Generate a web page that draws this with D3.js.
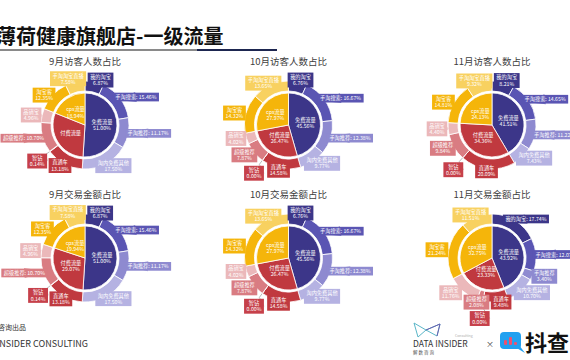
<!DOCTYPE html>
<html><head><meta charset="utf-8">
<script src="https://cdn.jsdelivr.net/npm/d3@7/dist/d3.min.js"></script>
<style>
body{margin:0;background:#fff}
svg{display:block}
text{font-family:"Noto Sans CJK SC","Noto Sans",sans-serif}
</style>
</head><body>
<svg id="c" width="570" height="360"></svg>
<script>
const mainTitle = "薄荷健康旗舰店-一级流量";
const chartTitles = ["9月访客人数占比","10月访客人数占比","11月访客人数占比","9月交易金额占比","10月交易金额占比","11月交易金额占比"];
const innerNames = ["免费流量","付费流量","cps流量"];
const innerValues = [
  [51.00, 30.06, 18.94],
  [45.56, 26.47, 27.97],
  [41.51, 34.36, 24.13],
  [51.00, 29.07, 19.94],
  [45.56, 26.47, 27.97],
  [43.92, 23.33, 32.75]
];
const innerValueHidden = [[false,true,false],[false,false,false],[false,false,false],[false,false,false],[false,false,false],[false,false,false]];
const outerNames = ["我的淘宝","手淘搜索","手淘推荐","淘内免费其他","直通车","智钻","超级推荐","品销宝","淘宝客","手淘淘宝直播"];
const outerParents = [0,0,0,0,1,1,1,1,2,2];
const outerValues = [
  [6.87,15.46,11.17,17.50,13.18,0.14,10.70,4.96,12.35,7.58],
  [6.76,16.67,12.38,9.77,14.58,0.00,7.87,4.02,14.32,13.65],
  [8.21,14.65,11.22,7.43,20.09,0.00,9.84,4.40,14.81,9.32],
  [6.87,15.46,11.17,17.50,13.18,0.14,10.70,4.96,12.35,7.58],
  [6.76,16.67,12.38,9.77,14.58,0.00,7.87,4.02,14.32,13.65],
  [17.74,12.07,3.40,10.70,9.48,0.00,2.08,11.76,21.24,11.51]
];
const singleLineLabels = [
  ["手淘搜索","手淘推荐","超级推荐"],
  ["手淘搜索","手淘推荐"],
  ["手淘搜索","手淘推荐"],
  ["手淘搜索","手淘推荐","超级推荐"],
  ["手淘搜索","手淘推荐"],
  ["我的淘宝","手淘搜索"]
];

const innerColors = ["#3c3689","#c0393f","#f5b50a"];
const outerColors = ["#3c3689","#5a55b3","#8e8ad0","#b5b2e2","#c0393f","#c6404a","#d97c82","#ebb8ba","#f5b50a","#f8d160"];

const svg = d3.select("#c");
const fmt = v => v.toFixed(2) + "%";

// header
svg.append("text").attr("x",-4).attr("y",44).attr("font-size",20).attr("font-weight",700).attr("fill","#111").text(mainTitle);
svg.append("line").attr("x1",0).attr("x2",197).attr("y1",50).attr("y2",50).attr("stroke","#8a8a8a").attr("stroke-width",2);
svg.append("line").attr("x1",197).attr("x2",277).attr("y1",50).attr("y2",50).attr("stroke","#1d2650").attr("stroke-width",2);

const colX = d3.scalePoint().domain([0,1,2]).range([85,492]);
const rowY = d3.scalePoint().domain([0,1]).range([125,258]);
const R0 = 32, R1a = 34, R1 = 44;
const FS = 5.2, LH = 6.2;

// measuring helper
const meas = svg.append("text").attr("font-size",FS).attr("visibility","hidden");
function tw(s){ meas.text(s); return meas.node().getComputedTextLength(); }

chartTitles.forEach((title, ci) => {
  const cx = colX(ci % 3), cy = rowY(Math.floor(ci/3));
  const g = svg.append("g").attr("transform",`translate(${cx},${cy})`);
  svg.append("text").attr("x",cx).attr("y",cy - 60).attr("text-anchor","middle")
     .attr("font-size",9.5).attr("fill","#404040").text(title);

  const pieData = d3.pie().sort(null).value(d=>d)(innerValues[ci]);
  const arcIn = d3.arc().innerRadius(0).outerRadius(R0);
  const segs = [];
  pieData.forEach((p, pi) => {
    const idx = outerParents.map((q,k)=>q===pi?k:-1).filter(k=>k>=0);
    const tot = d3.sum(idx, k=>outerValues[ci][k]);
    const sc = d3.scaleLinear().domain([0,tot]).range([p.startAngle,p.endAngle]);
    let acc = 0;
    idx.forEach(k => {
      const v = outerValues[ci][k];
      segs.push({k, name: outerNames[k], value: v, startAngle: sc(acc), endAngle: sc(acc+v), color: outerColors[k]});
      acc += v;
    });
  });
  const arcOut = d3.arc().innerRadius(R1a).outerRadius(R1);

  const single = singleLineLabels[ci];
  const labels = segs.map(s => {
    const th = (s.startAngle + s.endAngle)/2;
    const sn = Math.sin(th), cs = Math.cos(th);
    let lines;
    if (single.includes(s.name)) lines = [s.name + ": " + fmt(s.value)];
    else lines = [s.name, fmt(s.value)];
    const w = d3.max(lines, tw) + 5;
    const h = lines.length * LH + 2.5;
    const tiny = s.value < 0.5;
    let x, y;
    if (tiny) { x = sn*58; y = -cs*60; }
    else { x = sn*48 + sn*w*0.35; y = -cs*46; }
    return {s, th, sn, cs, lines, w, h, x, y, tiny};
  });
  for (let it=0; it<60; it++) {
    for (let a=0;a<labels.length;a++) for (let b=a+1;b<labels.length;b++) {
      const A=labels[a], B=labels[b];
      const ox = (A.w+B.w)/2 + 1.5 - Math.abs(A.x-B.x);
      const oy = (A.h+B.h)/2 + 1.5 - Math.abs(A.y-B.y);
      if (ox>0 && oy>0) {
        if (oy <= ox) { const d = oy/2*(A.y<=B.y?1:-1); A.y -= d; B.y += d; }
        else { const d = ox/2*(A.x<=B.x?1:-1); A.x -= d; B.x += d; }
      }
    }
  }

  labels.forEach(L => {
    const tx = L.sn*(R1-3), ty = -L.cs*(R1-3);
    if (L.tiny) {
      g.append("polyline").attr("points",`${tx},${ty} ${L.sn*(R1+5)},${-L.cs*(R1+5)} ${L.x + (L.sn>0?-L.w/2:L.w/2)},${L.y}`)
        .attr("fill","none").attr("stroke","#9a9a9a").attr("stroke-width",0.7);
    } else {
      const dx = L.x - tx, dy = L.y - ty, len = Math.hypot(dx,dy)||1;
      const px = -dy/len*5, py = dx/len*5;
      g.append("polygon").attr("points",`${tx},${ty} ${L.x+px},${L.y+py} ${L.x-px},${L.y-py}`)
        .attr("fill",L.s.color).attr("opacity",0.8);
    }
  });

  g.selectAll("path.in").data(pieData).join("path").attr("class","in")
    .attr("d",arcIn).attr("fill",(d,j)=>innerColors[j]).attr("stroke","#fff").attr("stroke-width",0.8);
  g.selectAll("path.out").data(segs).join("path").attr("class","out")
    .attr("d",arcOut).attr("fill",d=>d.color).attr("stroke","#fff").attr("stroke-width",0.8);

  pieData.forEach((p,j) => {
    const th = (p.startAngle+p.endAngle)/2;
    const x = Math.sin(th)*17, y = -Math.cos(th)*15;
    const t = g.append("text").attr("x",x).attr("y",y).attr("text-anchor","middle")
      .attr("font-size",FS).attr("fill","#fff");
    const lines = innerValueHidden[ci][j] ? [innerNames[j]] : [innerNames[j], fmt(p.data)];
    lines.forEach((ln,li) => t.append("tspan").attr("x",x)
      .attr("dy", li===0 ? (lines.length===1? 2 : -1.2) : LH).text(ln));
  });

  labels.forEach(L => {
    g.append("rect").attr("x",L.x-L.w/2).attr("y",L.y-L.h/2).attr("width",L.w).attr("height",L.h)
      .attr("fill",L.s.color);
    const t = g.append("text").attr("text-anchor","middle").attr("font-size",FS).attr("fill","#fff");
    L.lines.forEach((ln,li) => t.append("tspan").attr("x",L.x)
      .attr("y", L.y - L.h/2 + 1.2 + FS + li*LH).text(ln));
  });
});

// footer left
svg.append("text").attr("x",26).attr("y",330).attr("text-anchor","end").attr("font-size",7).attr("fill","#333").text("解数咨询出品");
svg.append("text").attr("x",88).attr("y",347).attr("text-anchor","end").attr("font-size",9).attr("fill","#333").text("DATA INSIDER CONSULTING");

// footer right logos
const lg = svg.append("g");
lg.append("polyline").attr("points","414,323 426,330 440,324 437,336 426,330 418,337 414,323")
  .attr("fill","none").attr("stroke","#5ab6c8").attr("stroke-width",1);
lg.append("polyline").attr("points","426,330 440,324 437,336").attr("fill","none").attr("stroke","#6a5fb0").attr("stroke-width",1);
lg.append("text").attr("x",413).attr("y",347).attr("font-size",8.5).attr("fill","#333").text("DATA INSIDER");
lg.append("text").attr("x",455).attr("y",337).attr("font-size",3.5).attr("fill","#aaa").text("Consulting");
lg.append("text").attr("x",413).attr("y",354).attr("font-size",4.5).attr("fill","#555").text("解 数 咨 询");
lg.append("text").attr("x",486).attr("y",347).attr("font-size",8).attr("fill","#444").text("×");
lg.append("rect").attr("x",500).attr("y",332).attr("width",21).attr("height",17).attr("rx",4).attr("fill","#21a0f0");
lg.append("path").attr("d","M515,347 L525,353 L519,345 Z").attr("fill","#21a0f0");
[[504,340,5],[509,337,8],[514,342,3]].forEach(b=>lg.append("rect").attr("x",b[0]).attr("y",b[1]).attr("width",3).attr("height",b[2]).attr("rx",1.2).attr("fill","#f0506e"));
lg.append("text").attr("x",525).attr("y",351).attr("font-size",22).attr("font-weight",700).attr("fill","#111").text("抖查");
</script>
</body></html>
